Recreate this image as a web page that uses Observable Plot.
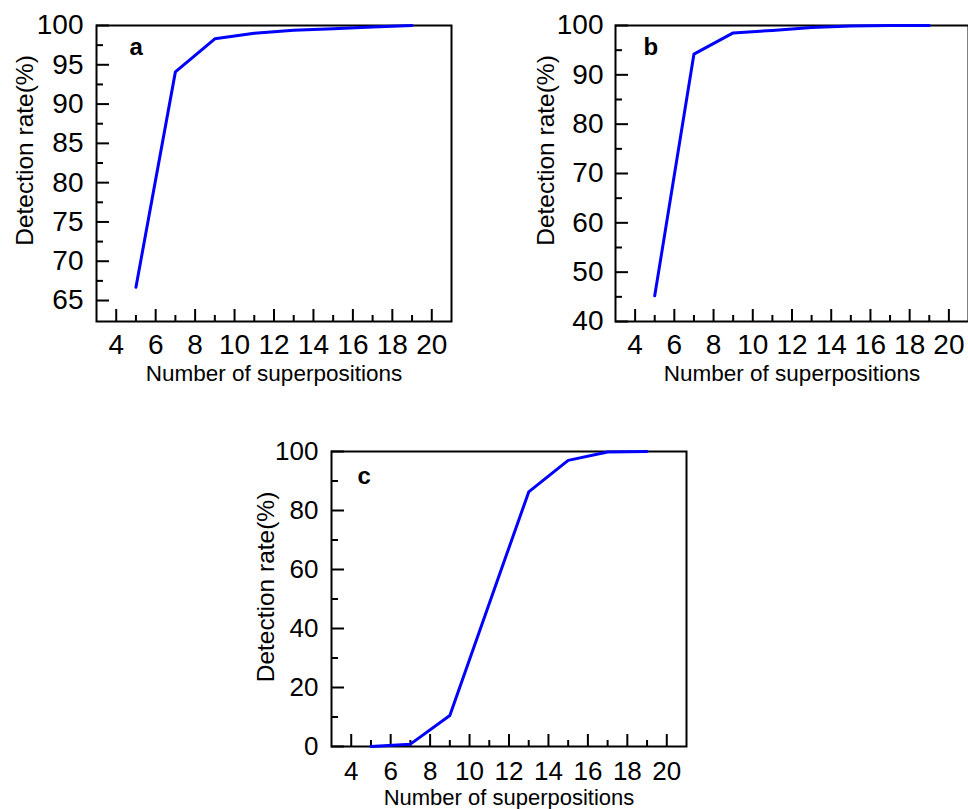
<!DOCTYPE html>
<html>
<head>
<meta charset="utf-8">
<script src="https://cdn.jsdelivr.net/npm/d3@7"></script>
<script src="https://cdn.jsdelivr.net/npm/@observablehq/plot@0.6"></script>
<style>
  html, body { margin: 0; padding: 0; background: #fff; overflow: hidden; }
  #wrap { position: relative; width: 968px; height: 809px; overflow: hidden; }
  #wrap svg { position: absolute; overflow: visible; }
</style>
</head>
<body>
<div id="wrap"></div>
<script>
// ---- data ----
const superpositions = [5, 7, 9, 11, 13, 15, 17, 19];
const rateA = [66.7, 94.1, 98.3, 99.0, 99.4, 99.6, 99.8, 100];
const rateB = [45.2, 94.2, 98.5, 99.0, 99.6, 99.9, 100, 100];
const rateC = [0, 0.8, 10.5, 48.5, 86.3, 97.0, 99.8, 100];

const xMajorTicks = [4, 6, 8, 10, 12, 14, 16, 18, 20];
const xMinorTicks = [5, 7, 9, 11, 13, 15, 17, 19];

const yMajorA = [65, 70, 75, 80, 85, 90, 95, 100];
const yMinorA = [67.5, 72.5, 77.5, 82.5, 87.5, 92.5, 97.5];
const yMajorB = [40, 50, 60, 70, 80, 90, 100];
const yMinorB = [45, 55, 65, 75, 85, 95];
const yMajorC = [0, 20, 40, 60, 80, 100];
const yMinorC = [10, 30, 50, 70, 90];

const panelLetters = ["a", "b", "c"];
const xTitle = "Number of superpositions";
const yTitle = "Detection rate(%)";

const FONT = "'Liberation Sans', Arial, Helvetica, sans-serif";

function panel(cfg) {
  const data = superpositions.map((x, i) => ({x, y: cfg.values[i]}));
  const svg = Plot.plot({
    width: cfg.width,
    height: cfg.height,
    marginLeft: cfg.ml, marginRight: cfg.mr, marginTop: cfg.mt, marginBottom: cfg.mb,
    style: {fontFamily: FONT, color: "#000", background: "transparent", overflow: "visible"},
    x: {domain: [3, 21]},
    y: {domain: cfg.yDomain},
    marks: [
      Plot.axisX({ticks: xMajorTicks, tickSize: -12, fill: "none", label: null, strokeWidth: 2}),
      Plot.axisX({ticks: xMinorTicks, tickSize: -6, fill: "none", label: null, strokeWidth: 2}),
      Plot.axisX({ticks: xMajorTicks, tickSize: 0, tickPadding: cfg.xPad, fontSize: cfg.tickFont, label: null, tickFormat: d => String(d)}),
      Plot.axisY({ticks: cfg.yMajor, tickSize: -13, fill: "none", label: null, strokeWidth: 2}),
      Plot.axisY({ticks: cfg.yMinor, tickSize: -7, fill: "none", label: null, strokeWidth: 2}),
      Plot.axisY({ticks: cfg.yMajor, tickSize: 0, tickPadding: cfg.yPad, fontSize: cfg.tickFont, label: null, tickFormat: d => String(d)}),
      Plot.frame({stroke: "#000", strokeWidth: 2}),
      Plot.line(data, {x: "x", y: "y", stroke: "#0000ff", strokeWidth: 3}),
      Plot.text([xTitle], {frameAnchor: "bottom", textAnchor: "middle", dy: cfg.xTitleDy, lineAnchor: "bottom", fontSize: cfg.xTitleFont, fill: "#000"}),
      Plot.text([yTitle], {frameAnchor: "left", textAnchor: "middle", rotate: -90, dx: cfg.yTitleDx, dy: cfg.yTitleDy, lineAnchor: "bottom", fontSize: 24.5, fill: "#000"}),
      Plot.text([cfg.letter], {frameAnchor: "top-left", dx: cfg.letterDx, dy: cfg.letterDy, lineAnchor: "bottom", textAnchor: "start", fontSize: 24, fontWeight: "bold", fill: "#000"})
    ]
  });
  svg.style.left = cfg.left + "px";
  svg.style.top = cfg.top + "px";
  return svg;
}

const wrap = document.getElementById("wrap");
wrap.appendChild(panel({
  values: rateA, yDomain: [62.33, 100], yMajor: yMajorA, yMinor: yMinorA, letter: panelLetters[0],
  left: 0, top: 0, width: 470, height: 400, ml: 96, mr: 19, mt: 25, mb: 79,
  xPad: 13, yPad: 13, tickFont: 28, xTitleFont: 22.5, xTitleDy: 59, yTitleDx: -64, yTitleDy: -23, letterDx: 33, letterDy: 29
}));
wrap.appendChild(panel({
  values: rateB, yDomain: [40, 100], yMajor: yMajorB, yMinor: yMinorB, letter: panelLetters[1],
  left: 500, top: 0, width: 468, height: 400, ml: 115, mr: 0, mt: 25, mb: 79,
  xPad: 13, yPad: 12, tickFont: 28, xTitleFont: 22.5, xTitleDy: 59, yTitleDx: -62, yTitleDy: -23, letterDx: 28, letterDy: 29
}));
wrap.appendChild(panel({
  values: rateC, yDomain: [0, 100], yMajor: yMajorC, yMinor: yMinorC, letter: panelLetters[2],
  left: 240, top: 420, width: 470, height: 389, ml: 91, mr: 24, mt: 31, mb: 63,
  xPad: 15, yPad: 13, tickFont: 26, xTitleFont: 22, xTitleDy: 58, yTitleDx: -58, yTitleDy: -12, letterDx: 26, letterDy: 32
}));
</script>
</body>
</html>
